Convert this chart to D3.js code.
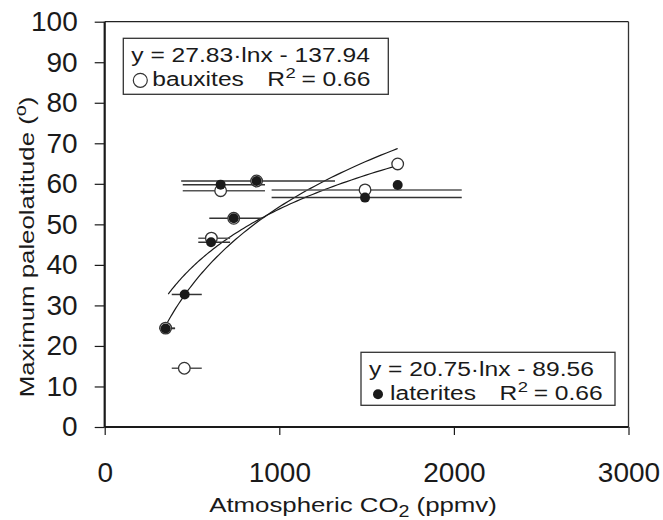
<!DOCTYPE html>
<html>
<head>
<meta charset="utf-8">
<script src="https://cdn.jsdelivr.net/npm/d3@7"></script>
<style>
  html, body { margin: 0; padding: 0; background: #fff; }
  svg text { font-family: "Liberation Sans", Arial, Helvetica, sans-serif; fill: #1a1a1a; }
</style>
</head>
<body>
<svg id="chart" width="663" height="520"></svg>
<script>
// CO2 (ppmv) vs maximum paleolatitude (degrees)
const bauxiteCO2 = [349, 456, 611, 664, 739, 870, 1491, 1678];
const bauxiteLat = [24.4, 14.5, 46.6, 58.3, 51.5, 60.7, 58.5, 64.9];
const bauxiteLo  = [313, 384, 536, 447, null, null, 956, null];
const bauxiteHi  = [403, 556, 718, 918, null, null, 2045, null];

const lateriteCO2 = [349, 458, 609, 664, 739, 870, 1491, 1678];
const lateriteLat = [24.3, 32.7, 45.6, 59.8, 51.5, 60.7, 56.6, 59.7];
const lateriteLo  = [313, 384, 536, 447, 599, 438, 956, null];
const lateriteHi  = [403, 556, 718, 918, 905, 1319, 2045, null];

// logarithmic fits y = a·ln(x) + b
const bauxiteFit  = { a: 27.83, b: -137.94, from: 349, to: 1678 };
const lateriteFit = { a: 20.75, b: -89.56,  from: 364, to: 1678 };

const xTicks = [0, 1000, 2000, 3000];
const yTicks = [0, 10, 20, 30, 40, 50, 60, 70, 80, 90, 100];

const svg = d3.select("#chart");
const x = d3.scaleLinear().domain([0, 3000]).range([104.7, 628.5]);
const y = d3.scaleLinear().domain([0, 100]).range([427, 21.7]);

// wide lettering: text drawn in a horizontally stretched group
const STRETCH = 1.23;
function wideGroup(transform) {
  return svg.append("g").attr("transform", transform + ` scale(${STRETCH},1)`);
}

// frame: thin top and right edges
svg.append("line").attr("x1", x(0)).attr("x2", x(3000)).attr("y1", y(100)).attr("y2", y(100))
  .attr("stroke", "#222").attr("stroke-width", 1.3);
svg.append("line").attr("x1", x(3000)).attr("x2", x(3000)).attr("y1", y(100)).attr("y2", y(0))
  .attr("stroke", "#333").attr("stroke-width", 1.3);

// axes
const xAxis = svg.append("g").attr("transform", `translate(0,${y(0)})`)
  .call(d3.axisBottom(x).tickValues(xTicks).tickSize(8).tickPadding(27).tickFormat(d3.format("d")));
const yAxis = svg.append("g").attr("transform", `translate(${x(0)},0)`)
  .call(d3.axisLeft(y).tickValues(yTicks).tickSize(10).tickPadding(17).tickFormat(d3.format("d")));
[xAxis, yAxis].forEach(g => {
  g.select(".domain").attr("stroke", "#1a1a1a").attr("stroke-width", 2.2);
  g.selectAll(".tick line").attr("stroke", "#1a1a1a").attr("stroke-width", 1.2);
  g.selectAll(".tick text").attr("font-size", 28).attr("fill", "#1a1a1a")
    .attr("font-family", "Liberation Sans, Arial, sans-serif");
});
xAxis.select(".domain").attr("d", `M${x(0)},0H${x(3000)}`);
yAxis.select(".domain").attr("d", `M0,${y(100)}V${y(0)}`);

// axis titles
const xt = wideGroup("translate(353,512)").append("text").attr("text-anchor", "middle").attr("font-size", 21);
xt.append("tspan").text("Atmospheric CO");
xt.append("tspan").attr("font-size", 16).attr("dy", 5).text("2");
xt.append("tspan").attr("dy", -5).text(" (ppmv)");

const yt = wideGroup("translate(34,247) rotate(-90)").append("text")
  .attr("text-anchor", "middle").attr("font-size", 21);
yt.append("tspan").text("Maximum paleolatitude (");
yt.append("tspan").attr("font-size", 16).attr("dy", -8).text("o");
yt.append("tspan").attr("dy", 8).text(")");

// fitted curves
function fitPoints(f) {
  const n = 80, pts = [];
  for (let i = 0; i <= n; i++) {
    const c = f.from * Math.pow(f.to / f.from, i / n);
    pts.push([c, f.a * Math.log(c) + f.b]);
  }
  return pts;
}
const line = d3.line().x(d => x(d[0])).y(d => y(d[1])).curve(d3.curveBasis);
[bauxiteFit, lateriteFit].forEach(f => {
  svg.append("path").attr("d", line(fitPoints(f)))
    .attr("fill", "none").attr("stroke", "#1a1a1a").attr("stroke-width", 1.2);
});

// horizontal error bars
function bars(co2, lat, lo, hi, color) {
  const rows = co2.map((c, i) => ({ lat: lat[i], lo: lo[i], hi: hi[i] })).filter(d => d.lo != null);
  svg.append("g").selectAll("line").data(rows).join("line")
    .attr("x1", d => x(d.lo)).attr("x2", d => x(d.hi))
    .attr("y1", d => y(d.lat)).attr("y2", d => y(d.lat))
    .attr("stroke", color).attr("stroke-width", 1.5);
}
bars(bauxiteCO2, bauxiteLat, bauxiteLo, bauxiteHi, "#555");
bars(lateriteCO2, lateriteLat, lateriteLo, lateriteHi, "#333");

// points: bauxites open, laterites filled
svg.append("g").selectAll("circle").data(bauxiteCO2.map((c, i) => [c, bauxiteLat[i]])).join("circle")
  .attr("cx", d => x(d[0])).attr("cy", d => y(d[1])).attr("r", 5.8)
  .attr("fill", "#fff").attr("stroke", "#333").attr("stroke-width", 1.3);
svg.append("g").selectAll("circle").data(lateriteCO2.map((c, i) => [c, lateriteLat[i]])).join("circle")
  .attr("cx", d => x(d[0])).attr("cy", d => y(d[1])).attr("r", 5)
  .attr("fill", "#1a1a1a");

// legend boxes
function legend(bx, by, bw, bh, eq, name, filled) {
  svg.append("rect").attr("x", bx).attr("y", by).attr("width", bw).attr("height", bh)
    .attr("fill", "#fff").attr("stroke", "#333").attr("stroke-width", 1.3);
  wideGroup(`translate(${bx + 8},${by + 23.5})`).append("text").attr("font-size", 20).text(eq);
  svg.append("circle").attr("cx", bx + 17).attr("cy", by + 42).attr("r", filled ? 5 : 7)
    .attr("fill", filled ? "#1a1a1a" : "#fff").attr("stroke", filled ? "none" : "#333").attr("stroke-width", 1.2);
  const g = wideGroup(`translate(${bx + 29},${by + 48})`);
  const t0 = g.append("text").attr("font-size", 20).text(name);
  const w0 = t0.node().getComputedTextLength();
  const t1 = g.append("text").attr("x", w0 + 19).attr("font-size", 20).text("R");
  const w1 = w0 + 19 + t1.node().getComputedTextLength();
  const t2 = g.append("text").attr("x", w1 + 0.5).attr("y", -8).attr("font-size", 15).text("2");
  const w2 = t2.node().getComputedTextLength();
  g.append("text").attr("x", w1 + w2 + 5).attr("font-size", 20).text("= 0.66");
}
legend(123.3, 38.3, 265, 56, "y = 27.83\u00b7lnx - 137.94", "bauxites", false);
legend(361, 352.3, 254, 53, "y = 20.75\u00b7lnx - 89.56", "laterites", true);
</script>
</body>
</html>
